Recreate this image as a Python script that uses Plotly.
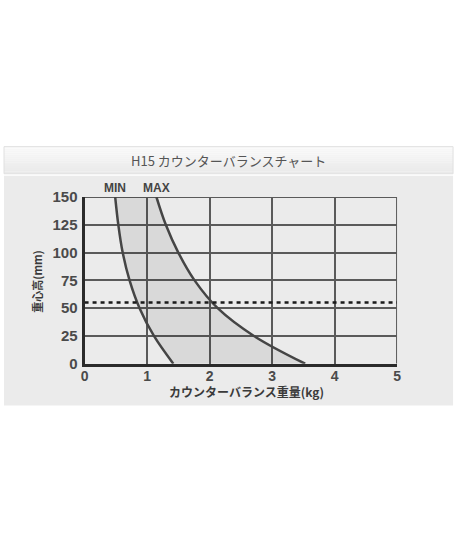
import plotly.graph_objects as go

# ---- data ----
min_x = [0.49, 0.54, 0.61, 0.72, 0.88, 1.11, 1.42]
min_y = [150, 125, 100, 75, 50, 25, 0]
max_x = [1.15, 1.30, 1.50, 1.76, 2.13, 2.71, 3.53]
max_y = [150, 125, 100, 75, 50, 25, 0]
ref_x = [0, 5]
ref_y = [55, 55]
x_ticks = [0, 1, 2, 3, 4, 5]
y_ticks = [0, 25, 50, 75, 100, 125, 150]
title_text = "H15 カウンターバランスチャート"
x_title = "カウンターバランス重量(kg)"
y_title = "重心高(mm)"
curve_labels = ["MIN", "MAX"]

W, H = 460, 552
def py(p):
    return 1 - p / H
def px(p):
    return p / W

FONT = "Liberation Sans, Arial, Noto Sans CJK JP, sans-serif"
CJK = "Noto Sans CJK JP, Liberation Sans, sans-serif"
LINE = "#454545"
GRID = "#5a5a5a"

fig = go.Figure()
fig.add_trace(go.Scatter(x=min_x, y=min_y, mode="lines", line=dict(color=LINE, width=2.5, shape="spline", smoothing=1),
                         hoverinfo="skip", showlegend=False))
fig.add_trace(go.Scatter(x=max_x, y=max_y, mode="lines", line=dict(color=LINE, width=2.5, shape="spline", smoothing=1),
                         fill="tonextx", fillcolor="rgba(0,0,0,0.075)", hoverinfo="skip", showlegend=False))
fig.add_trace(go.Scatter(x=ref_x, y=ref_y, mode="lines", line=dict(color="#1a1a1a", width=2.5, dash="4px,4px"),
                         hoverinfo="skip", showlegend=False))

shapes = []
# panel background
shapes.append(dict(type="rect", xref="paper", yref="paper", x0=0, x1=px(457), y0=py(409), y1=py(172),
                   fillcolor="#ebebeb", line=dict(width=0), layer="below"))
# header with a soft gradient
n = 14
top, bot = 142, 170
for i in range(n):
    a = top + (bot - top) * i / n
    b = top + (bot - top) * (i + 1) / n
    c = int(249 - (249 - 234) * i / (n - 1))
    shapes.append(dict(type="rect", xref="paper", yref="paper", x0=0, x1=px(457), y0=py(b), y1=py(a),
                       fillcolor=f"rgb({c},{c},{c})", line=dict(width=0), layer="below"))
shapes.append(dict(type="rect", xref="paper", yref="paper", x0=0, x1=px(457), y0=py(bot), y1=py(top),
                   fillcolor="rgba(0,0,0,0)", line=dict(width=1, color="#e0e0e0"), layer="below"))
# top and right frame lines of the grid (range edges)
shapes.append(dict(type="line", xref="x", yref="y", x0=x_ticks[0], x1=x_ticks[-1], y0=y_ticks[-1], y1=y_ticks[-1],
                   line=dict(color=GRID, width=2), layer="below"))
shapes.append(dict(type="line", xref="x", yref="y", x0=x_ticks[-1], x1=x_ticks[-1], y0=y_ticks[0], y1=y_ticks[-1],
                   line=dict(color=GRID, width=2), layer="below"))

fig.update_layout(
    width=W, height=H,
    margin=dict(l=0, r=0, t=0, b=0),
    paper_bgcolor="white", plot_bgcolor="rgba(0,0,0,0)",
    shapes=shapes,
    xaxis=dict(domain=[px(82), px(400)], range=[0, 5], tickvals=x_ticks, ticktext=[str(v) for v in x_ticks],
               showgrid=True, gridcolor=GRID, gridwidth=2, zeroline=False,
               showline=True, linecolor="#2b2b2b", linewidth=3, ticks="", ticklabelstandoff=-3,
               tickfont=dict(family=FONT, size=14, color="#4a4a4a", weight="bold"),
               fixedrange=True),
    yaxis=dict(domain=[py(366), py(194)], range=[0, 150], tickvals=y_ticks, ticktext=[str(v) for v in y_ticks],
               showgrid=True, gridcolor=GRID, gridwidth=2, zeroline=False,
               showline=True, linecolor="#2b2b2b", linewidth=3, ticks="", ticklabelstandoff=1,
               tickfont=dict(family=FONT, size=15, color="#4a4a4a", weight="bold"),
               fixedrange=True),
    annotations=[
        dict(text=title_text, xref="paper", yref="paper", x=px(228), y=py(156), xanchor="center", yanchor="middle",
             showarrow=False, font=dict(family=CJK, size=13, color="#555555")),
        dict(text=x_title, xref="paper", yref="paper", x=px(247), y=py(395), xanchor="center", yanchor="middle",
             showarrow=False, font=dict(family=CJK, size=12, color="#3a3a3a", weight="bold")),
        dict(text=y_title, xref="paper", yref="paper", x=px(34), y=py(281), xanchor="center", yanchor="middle",
             textangle=-90, showarrow=False, font=dict(family=CJK, size=11, color="#3a3a3a", weight="bold")),
        dict(text=curve_labels[0], xref="x", yref="y", x=min_x[0], y=min_y[0], xanchor="center", yanchor="bottom",
             showarrow=False, font=dict(family=FONT, size=12, color="#444444", weight="bold")),
        dict(text=curve_labels[1], xref="x", yref="y", x=max_x[0], y=max_y[0], xanchor="center", yanchor="bottom",
             showarrow=False, font=dict(family=FONT, size=12, color="#444444", weight="bold")),
    ],
)

fig.write_html("out.html")
